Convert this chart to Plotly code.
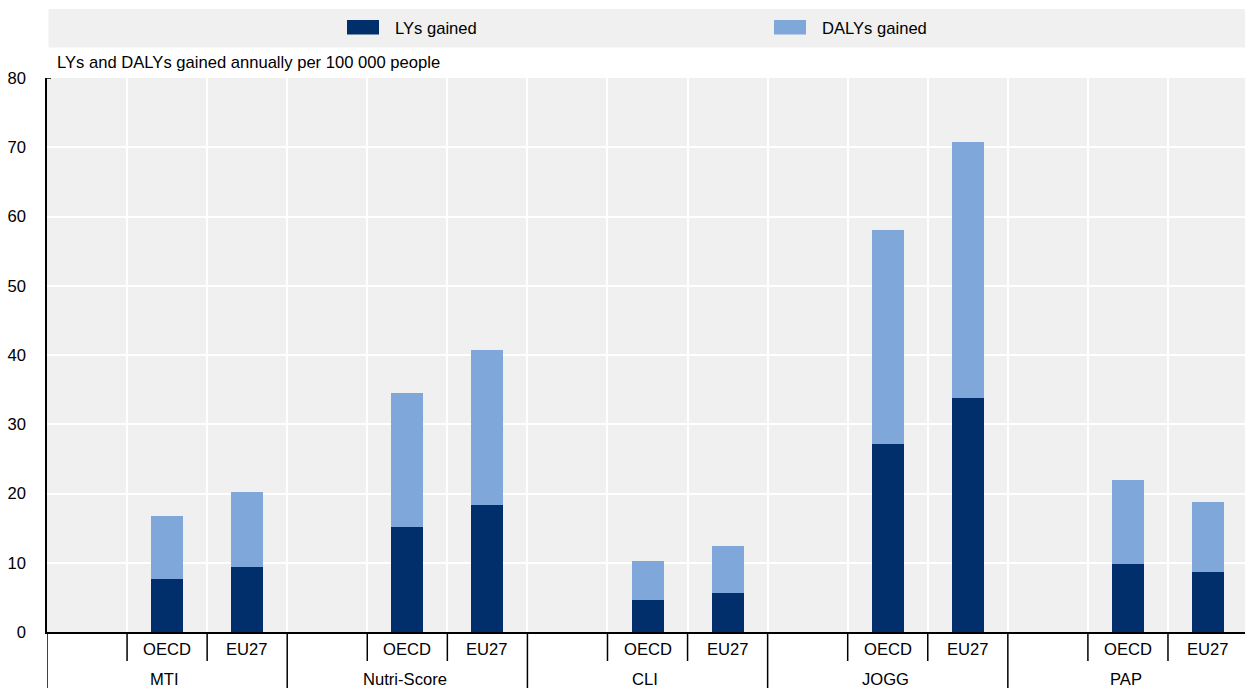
import plotly.graph_objects as go

# ---- data ----
groups = ["MTI", "Nutri-Score", "CLI", "JOGG", "PAP"]
regions = ["OECD", "EU27"]
lys_gained = [7.65, 9.35, 15.15, 18.3, 4.6, 5.6, 27.2, 33.8, 9.8, 8.7]
dalys_gained = [16.8, 20.2, 34.55, 40.7, 10.3, 12.45, 58.1, 70.7, 22.0, 18.8]
y_ticks = [0, 10, 20, 30, 40, 50, 60, 70, 80]
y_title = "LYs and DALYs gained annually per 100 000 people"
legend_names = ["LYs gained", "DALYs gained"]

DARK = "#002F6C"
LIGHT = "#7FA7D9"
BG = "#F0F0F0"
FONT = "Liberation Sans, Arial, sans-serif"
FS = 16.6

W, H = 1245, 688
L, R, T, B = 47, 0, 78, 56
PW, PH = W - L - R, H - T - B
SLOT = 80.07


def px_x(px):
    return (px - L) / PW


def px_y(py):
    return (H - B - py) / PH


# slot positions: each group = [empty, OECD, EU27]
xpos = []
for gi, g in enumerate(groups):
    for ri, r in enumerate(regions):
        xpos.append(gi * 3 + 1 + ri)

fig = go.Figure()
fig.add_trace(go.Bar(x=xpos, y=dalys_gained, marker_color=LIGHT, width=0.4,
                     marker_line_width=0, name=legend_names[1], showlegend=False,
                     hoverinfo="skip"))
fig.add_trace(go.Bar(x=xpos, y=lys_gained, marker_color=DARK, width=0.4,
                     marker_line_width=0, name=legend_names[0], showlegend=False,
                     hoverinfo="skip"))

n_slots = len(groups) * 3
boundaries = [k - 0.5 for k in range(n_slots + 1)]
x_max = -0.5 + PW / SLOT

shapes = []
annotations = []

# bottom tick lines
y_short = px_y(661)
y_long = px_y(H + 2)
for k, bnd in enumerate(boundaries):
    if bnd > x_max:
        continue
    is_group = (k % 3 == 0)
    shapes.append(dict(type="line", xref="x", yref="paper", x0=bnd, x1=bnd,
                       y0=0, y1=y_long if is_group else y_short,
                       line=dict(color="black", width=1.5)))

# sub labels and group labels
for gi, g in enumerate(groups):
    for ri, r in enumerate(regions):
        annotations.append(dict(x=gi * 3 + 1 + ri, y=px_y(649.5), xref="x", yref="paper",
                                text=r, showarrow=False, yanchor="middle",
                                font=dict(size=FS, color="black", family=FONT)))
    annotations.append(dict(x=gi * 3 + 1 - 0.03, y=px_y(679), xref="x", yref="paper",
                            text=g, showarrow=False, yanchor="middle",
                            font=dict(size=FS, color="black", family=FONT)))

# top nub on y axis
shapes.append(dict(type="line", xref="x", yref="y", x0=-0.5, x1=-0.45,
                   y0=y_ticks[-1], y1=y_ticks[-1], line=dict(color="black", width=1.5)))

# legend band
shapes.append(dict(type="rect", xref="paper", yref="paper", x0=px_x(48.5), x1=1,
                   y0=px_y(47.5), y1=px_y(9), fillcolor=BG, line_width=0, layer="below"))
# legend swatches
for name, color, sx in [(legend_names[0], DARK, 347), (legend_names[1], LIGHT, 774)]:
    shapes.append(dict(type="rect", xref="paper", yref="paper", x0=px_x(sx), x1=px_x(sx + 32),
                       y0=px_y(34.5), y1=px_y(20), fillcolor=color, line_width=0))
    annotations.append(dict(x=px_x(sx + 46), y=px_y(28), xref="paper", yref="paper",
                            text=name, showarrow=False, xanchor="left", yanchor="middle",
                            font=dict(size=FS, color="black", family=FONT)))

# y title
annotations.append(dict(x=px_x(55), y=px_y(62), xref="paper", yref="paper",
                        text=y_title, showarrow=False, xanchor="left", yanchor="middle",
                        font=dict(size=FS, color="black", family=FONT)))

fig.update_layout(
    width=W, height=H,
    margin=dict(l=L, r=R, t=T, b=B),
    paper_bgcolor="white",
    plot_bgcolor=BG,
    barmode="overlay",
    bargap=0,
    font=dict(family=FONT, size=FS, color="black"),
    shapes=shapes,
    annotations=annotations,
    showlegend=False,
    hovermode=False,
)
fig.update_xaxes(range=[-0.5, x_max], tickvals=boundaries, showticklabels=False,
                 showgrid=True, gridcolor="white", gridwidth=1.5, zeroline=False,
                 showline=True, linecolor="black", linewidth=1.5, ticks="")
fig.update_yaxes(range=[0, 80], tickvals=y_ticks, showgrid=True, gridcolor="white",
                 gridwidth=1.5, zeroline=False, showline=True, linecolor="black",
                 linewidth=1.5, ticks="outside", ticklen=16, tickcolor="rgba(0,0,0,0)",
                 tickfont=dict(size=FS, color="black", family=FONT))

fig.write_html("out.html", config={"displayModeBar": False},
               post_script="document.body.style.margin='0';document.body.style.overflow='hidden';")
